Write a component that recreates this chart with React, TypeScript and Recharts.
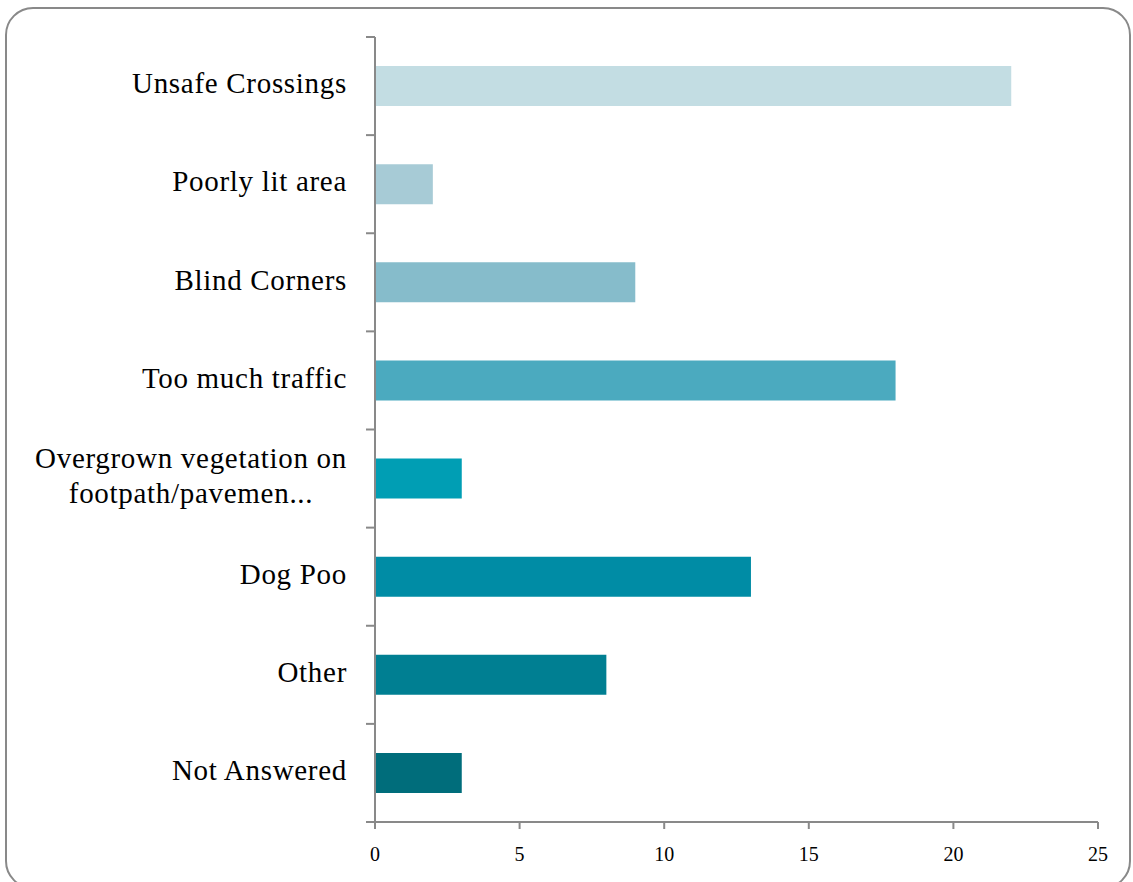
import * as Recharts from 'recharts';
import { BarChart, Bar, XAxis, YAxis, Cell } from 'recharts';

const categories = [
  'Unsafe Crossings',
  'Poorly lit area',
  'Blind Corners',
  'Too much traffic',
  'Overgrown vegetation on footpath/pavemen...',
  'Dog Poo',
  'Other',
  'Not Answered',
];
const counts = [22, 2, 9, 18, 3, 13, 8, 3];
const barColors = ['#C3DDE3', '#A7CBD6', '#86BCCB', '#4BAABF', '#009EB4', '#008CA5', '#007F92', '#006D7B'];
const xTicks = [0, 5, 10, 15, 20, 25];

const data = categories.map((name, i) => ({ name, value: counts[i] }));

const CHART_W = 1120;
const CHART_H = 870;
const MARGIN = { top: 28, right: 29, left: 0, bottom: 17 };
const FONT = '"Liberation Serif", "Times New Roman", serif';
const LABEL_SIZE = 29;
const LABEL_SPACING = 0.7;
const AXIS_GREY = '#898989';

let measureCtx: any = null;
function textWidth(s: string) {
  if (!measureCtx) measureCtx = document.createElement('canvas').getContext('2d');
  if (!measureCtx) return s.length * LABEL_SIZE * 0.48;
  measureCtx.font = `${LABEL_SIZE}px ${FONT}`;
  measureCtx.letterSpacing = `${LABEL_SPACING}px`;
  return measureCtx.measureText(s).width;
}

function wrap(label: string, maxWidth: number) {
  const words = label.split(' ');
  const lines: string[] = [];
  let cur = '';
  words.forEach((w) => {
    const next = cur ? cur + ' ' + w : w;
    if (cur && textWidth(next) > maxWidth) {
      lines.push(cur);
      cur = w;
    } else {
      cur = next;
    }
  });
  if (cur) lines.push(cur);
  return lines;
}

// category label, wrapped like the original; multi-line blocks are centred on their widest line
function CategoryTick(props: any) {
  const { x, y, payload } = props;
  const lines = wrap(String(payload.value), 335);
  const lineGap = 35;
  const first = y + LABEL_SIZE * 0.25 - ((lines.length - 1) * lineGap) / 2;
  const common = { fontFamily: FONT, fontSize: LABEL_SIZE, fill: '#000', letterSpacing: LABEL_SPACING };
  if (lines.length === 1) {
    return (
      <text x={x} y={first} textAnchor="end" {...common}>
        {lines[0]}
      </text>
    );
  }
  const blockW = Math.max(...lines.map(textWidth));
  return (
    <text x={x - blockW / 2} y={first} textAnchor="middle" {...common}>
      {lines.map((l, i) => (
        <tspan key={i} x={x - blockW / 2} dy={i === 0 ? 0 : lineGap}>
          {l}
        </tspan>
      ))}
    </text>
  );
}

function ValueTick(props: any) {
  const { x, y, payload } = props;
  return (
    <text x={x} y={y + 28} textAnchor="middle" fontFamily={FONT} fontSize={20} fill="#000">
      {payload.value}
    </text>
  );
}

// Excel-style category ticks sit on the band boundaries, not the band centres
function BandEdgeTicks() {
  const R: any = Recharts;
  const area = R.usePlotArea ? R.usePlotArea() : null;
  const off = !area && R.useOffset ? R.useOffset() : null;
  let x = 0, y = 0, h = 0;
  if (area) {
    x = area.x; y = area.y; h = area.height;
  } else if (off) {
    x = off.left; y = off.top; h = CHART_H - off.top - off.bottom;
  } else {
    return null;
  }
  const step = h / categories.length;
  return (
    <g>
      {Array.from({ length: categories.length + 1 }, (_, k) => (
        <line key={k} x1={x - 9} x2={x} y1={y + k * step} y2={y + k * step} stroke={AXIS_GREY} strokeWidth={2} />
      ))}
    </g>
  );
}

export default function App() {
  return (
    <div style={{ position: 'fixed', left: 0, top: 0, width: 1133, height: 882, overflow: 'hidden', background: '#fff' }}>
      <div
        style={{
          position: 'absolute',
          left: 5,
          top: 7,
          width: 1126,
          height: 882,
          boxSizing: 'border-box',
          border: `2px solid ${AXIS_GREY}`,
          borderRadius: 28,
        }}
      >
        <BarChart width={CHART_W} height={CHART_H} data={data} layout="vertical" margin={MARGIN}>
          <XAxis
            type="number"
            domain={[0, 25]}
            ticks={xTicks}
            height={40}
            tickSize={7}
            tickMargin={4}
            tick={<ValueTick />}
            axisLine={{ stroke: AXIS_GREY, strokeWidth: 2 }}
            tickLine={{ stroke: AXIS_GREY, strokeWidth: 2 }}
          />
          <YAxis
            type="category"
            dataKey="name"
            width={368}
            tickSize={9}
            tickMargin={19}
            tickLine={false}
            tick={<CategoryTick />}
            interval={0}
            axisLine={{ stroke: AXIS_GREY, strokeWidth: 2 }}
          />
          <Bar dataKey="value" barSize={40} isAnimationActive={false}>
            {data.map((d, i) => (
              <Cell key={d.name} fill={barColors[i]} />
            ))}
          </Bar>
          <BandEdgeTicks />
        </BarChart>
      </div>
    </div>
  );
}
